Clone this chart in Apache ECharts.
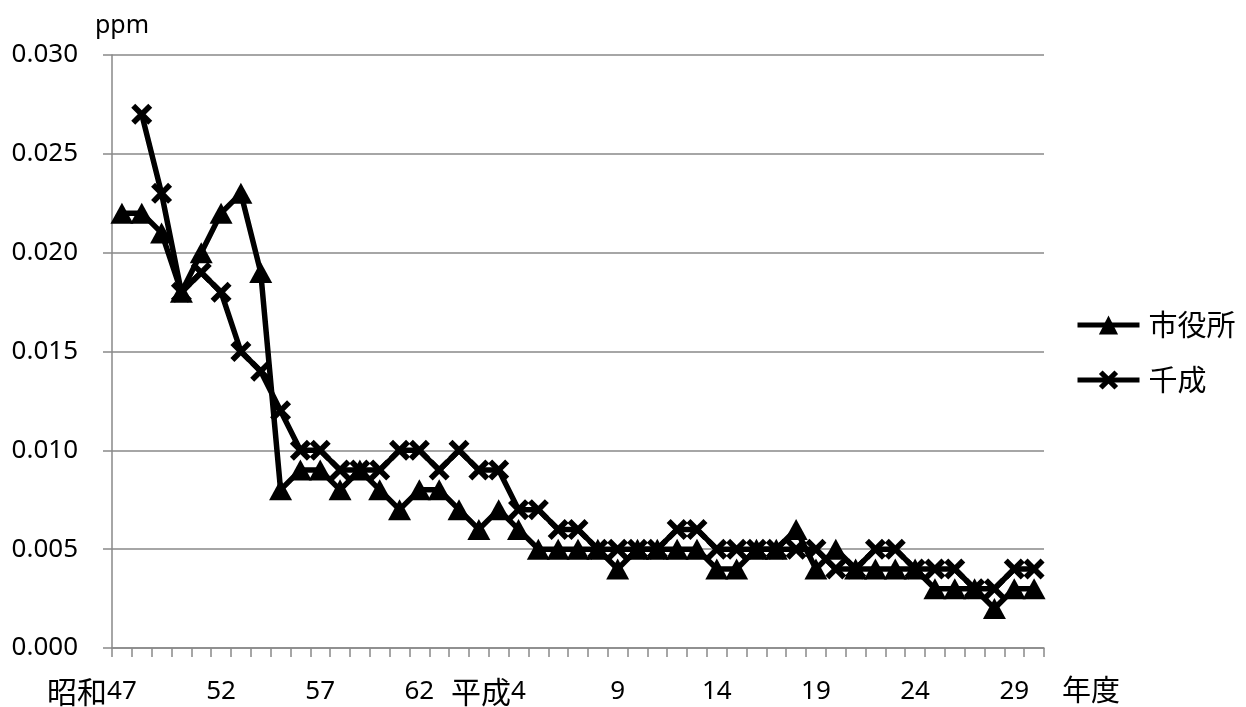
<!DOCTYPE html>
<html>
<head>
<meta charset="utf-8">
<script src="https://cdn.jsdelivr.net/npm/echarts@6/dist/echarts.min.js"></script>
<style>
  html, body { margin: 0; padding: 0; background: #fff; }
  #chart { width: 1246px; height: 707px; }
</style>
</head>
<body>
<div id="chart"></div>
<script>
// Fiscal years (昭和47 – 平成30)
const categories = [
  '昭和47','48','49','50','51','52','53','54','55','56','57','58','59','60','61','62','63',
  '平成元','2','3','平成4','5','6','7','8','9','10','11','12','13','14','15','16','17','18','19',
  '20','21','22','23','24','25','26','27','28','29','30'
];

// 市役所 (ppm)
const shiyakusho = [
  0.022,0.022,0.021,0.018,0.020,0.022,0.023,0.019,0.008,0.009,0.009,0.008,0.009,0.008,0.007,0.008,0.008,
  0.007,0.006,0.007,0.006,0.005,0.005,0.005,0.005,0.004,0.005,0.005,0.005,0.005,0.004,0.004,0.005,0.005,0.006,0.004,
  0.005,0.004,0.004,0.004,0.004,0.003,0.003,0.003,0.002,0.003,0.003
];

// 千成 (ppm)
const sennari = [
  null,0.027,0.023,0.018,0.019,0.018,0.015,0.014,0.012,0.010,0.010,0.009,0.009,0.009,0.010,0.010,0.009,
  0.010,0.009,0.009,0.007,0.007,0.006,0.006,0.005,0.005,0.005,0.005,0.006,0.006,0.005,0.005,0.005,0.005,0.005,0.005,
  0.004,0.004,0.005,0.005,0.004,0.004,0.004,0.003,0.003,0.004,0.004
];

const seriesNames = ['市役所', '千成'];
const yTicks = { min: 0, max: 0.030, interval: 0.005 };

const FONT = '"Noto Sans", "Noto Sans CJK JP", sans-serif';
const CJK = '"Noto Sans CJK JP", "Noto Sans", sans-serif';
const GRAY = '#898989';
const xMark = 'path://M0,1.9 L1.9,0 L5,3.1 L8.1,0 L10,1.9 L6.9,5 L10,8.1 L8.1,10 L5,6.9 L1.9,10 L0,8.1 L3.1,5 Z';

const chart = echarts.init(document.getElementById('chart'), null, { renderer: 'canvas' });

chart.setOption({
  animation: false,
  backgroundColor: '#fff',
  grid: { left: 112, top: 55, right: 202, bottom: 55, containLabel: false },
  legend: {
    orient: 'vertical',
    left: 1075,
    top: 310,
    padding: 0,
    itemWidth: 62,
    itemHeight: 24,
    itemGap: 25,
    data: seriesNames,
    lineStyle: { width: 5 },
    textStyle: { fontFamily: CJK, fontSize: 29, color: '#000', lineHeight: 30, padding: [0, 0, 0, 4] }
  },
  xAxis: {
    type: 'category',
    data: categories,
    boundaryGap: true,
    name: '年度',
    nameLocation: 'end',
    nameGap: 18,
    nameTextStyle: { fontFamily: CJK, fontSize: 29, color: '#000', verticalAlign: 'top', padding: [27, 0, 0, 0] },
    axisLine: { show: true, lineStyle: { color: GRAY, width: 1.5 } },
    axisTick: { show: true, interval: 0, alignWithLabel: false, length: 9, lineStyle: { color: GRAY, width: 1.5 } },
    axisLabel: {
      interval: 4,
      margin: 29,
      fontFamily: FONT,
      fontSize: 26,
      lineHeight: 30,
      color: '#000',
      formatter: function (v) {
        const m = v.match(/^(\D+)(\d+)$/);
        if (m) return '{e|' + m[1] + '}' + m[2] + '{s|' + m[1] + '}';
        return v;
      },
      rich: {
        e: { fontFamily: CJK, fontSize: 30, lineHeight: 30, color: '#000', verticalAlign: 'middle' },
        s: { fontFamily: CJK, fontSize: 30, lineHeight: 30, color: 'transparent', verticalAlign: 'middle' }
      }
    },
    splitLine: { show: false }
  },
  yAxis: {
    type: 'value',
    min: yTicks.min,
    max: yTicks.max,
    interval: yTicks.interval,
    name: 'ppm',
    nameLocation: 'end',
    nameGap: 17,
    nameTextStyle: { fontFamily: FONT, fontSize: 25, color: '#000', padding: [0, 0, 0, 20] },
    axisLine: { show: true, lineStyle: { color: GRAY, width: 1.5 } },
    axisTick: { show: true, length: 9, lineStyle: { color: GRAY, width: 1.5 } },
    axisLabel: {
      margin: 34,
      fontFamily: FONT,
      fontSize: 26,
      color: '#000',
      formatter: function (v) { return v.toFixed(3); }
    },
    splitLine: { show: true, lineStyle: { color: GRAY, width: 1.5 } }
  },
  series: [
    {
      name: seriesNames[0],
      type: 'line',
      data: shiyakusho,
      symbol: 'triangle',
      symbolSize: [23, 21],
      showAllSymbol: true,
      color: '#000',
      itemStyle: { color: '#000' },
      lineStyle: { color: '#000', width: 5.5 }
    },
    {
      name: seriesNames[1],
      type: 'line',
      data: sennari,
      symbol: xMark,
      symbolSize: 21,
      showAllSymbol: true,
      color: '#000',
      itemStyle: { color: '#000' },
      lineStyle: { color: '#000', width: 5.5 }
    }
  ]
});
</script>
</body>
</html>
